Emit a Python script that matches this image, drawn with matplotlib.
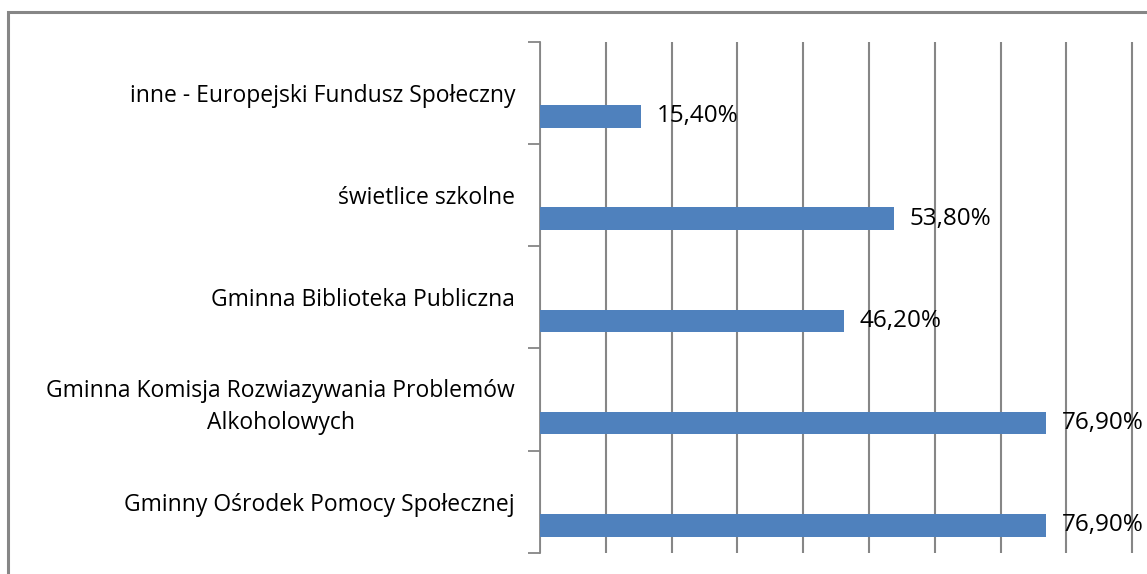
import matplotlib.pyplot as plt
import numpy as np
from matplotlib.patches import Rectangle

# data (bottom to top, as drawn)
categories = ['Gminny Ośrodek Pomocy Społecznej',
              'Gminna Komisja Rozwiazywania Problemów\nAlkoholowych',
              'Gminna Biblioteka Publiczna',
              'świetlice szkolne',
              'inne - Europejski Fundusz Społeczny']
values = [76.9, 76.9, 46.2, 53.8, 15.4]
value_labels = ['76,90%', '76,90%', '46,20%', '53,80%', '15,40%']

W, H = 1147, 574
grey = '#868686'
bar_col = '#4F81BD'
plt.rcParams['font.family'] = ['Open Sans', 'DejaVu Sans']

fig = plt.figure(figsize=(W / 100, H / 100), dpi=100)

# outer chart border (cut off on the right and bottom like the original)
fig.patches.append(Rectangle((8 / W, -0.1), 1.2, 1 - 12 / H + 0.1,
                             transform=fig.transFigure, fill=False,
                             edgecolor=grey, linewidth=2.2))

# axis spans 0..100% but the image is cropped at ~92%
left = 540 / W
right = (540 + 6.58 * 100) / W
top = 1 - 41.7 / H
bottom = 1 - 553 / H
ax = fig.add_axes([left, bottom, right - left, top - bottom])

n = len(categories)
pos = np.arange(n)
bar_off = -0.23  # bars sit in the lower part of each band
ax.barh(pos + bar_off, values, height=0.22, color=bar_col, zorder=3)

for p, v, lab in zip(pos, values, value_labels):
    ax.text(v + 2.4, p + bar_off, lab, va='center', ha='left',
            fontsize=17.5, color='black', clip_on=False)

ax.set_xlim(0, 100)
ax.set_ylim(-0.5, n - 0.5)

ax.set_xticks(np.arange(0, 101, 10))
ax.xaxis.grid(True, color=grey, linewidth=1.5)
ax.tick_params(axis='x', length=0, labelbottom=False)

ax.set_yticks(np.arange(-0.5, n, 1.0))
ax.set_yticklabels([])
ax.tick_params(axis='y', which='major', length=9, width=1.3, color=grey,
               direction='out')
ax.set_yticks(pos, minor=True)
ax.set_yticklabels(categories, minor=True, fontsize=16.5,
                   multialignment='center', linespacing=1.45)
ax.tick_params(axis='y', which='minor', length=0, pad=18)

for s in ['top', 'right', 'bottom']:
    ax.spines[s].set_visible(False)
ax.spines['left'].set_color(grey)
ax.spines['left'].set_linewidth(1.3)
ax.set_axisbelow(True)

fig.savefig('out.png', dpi=100)
